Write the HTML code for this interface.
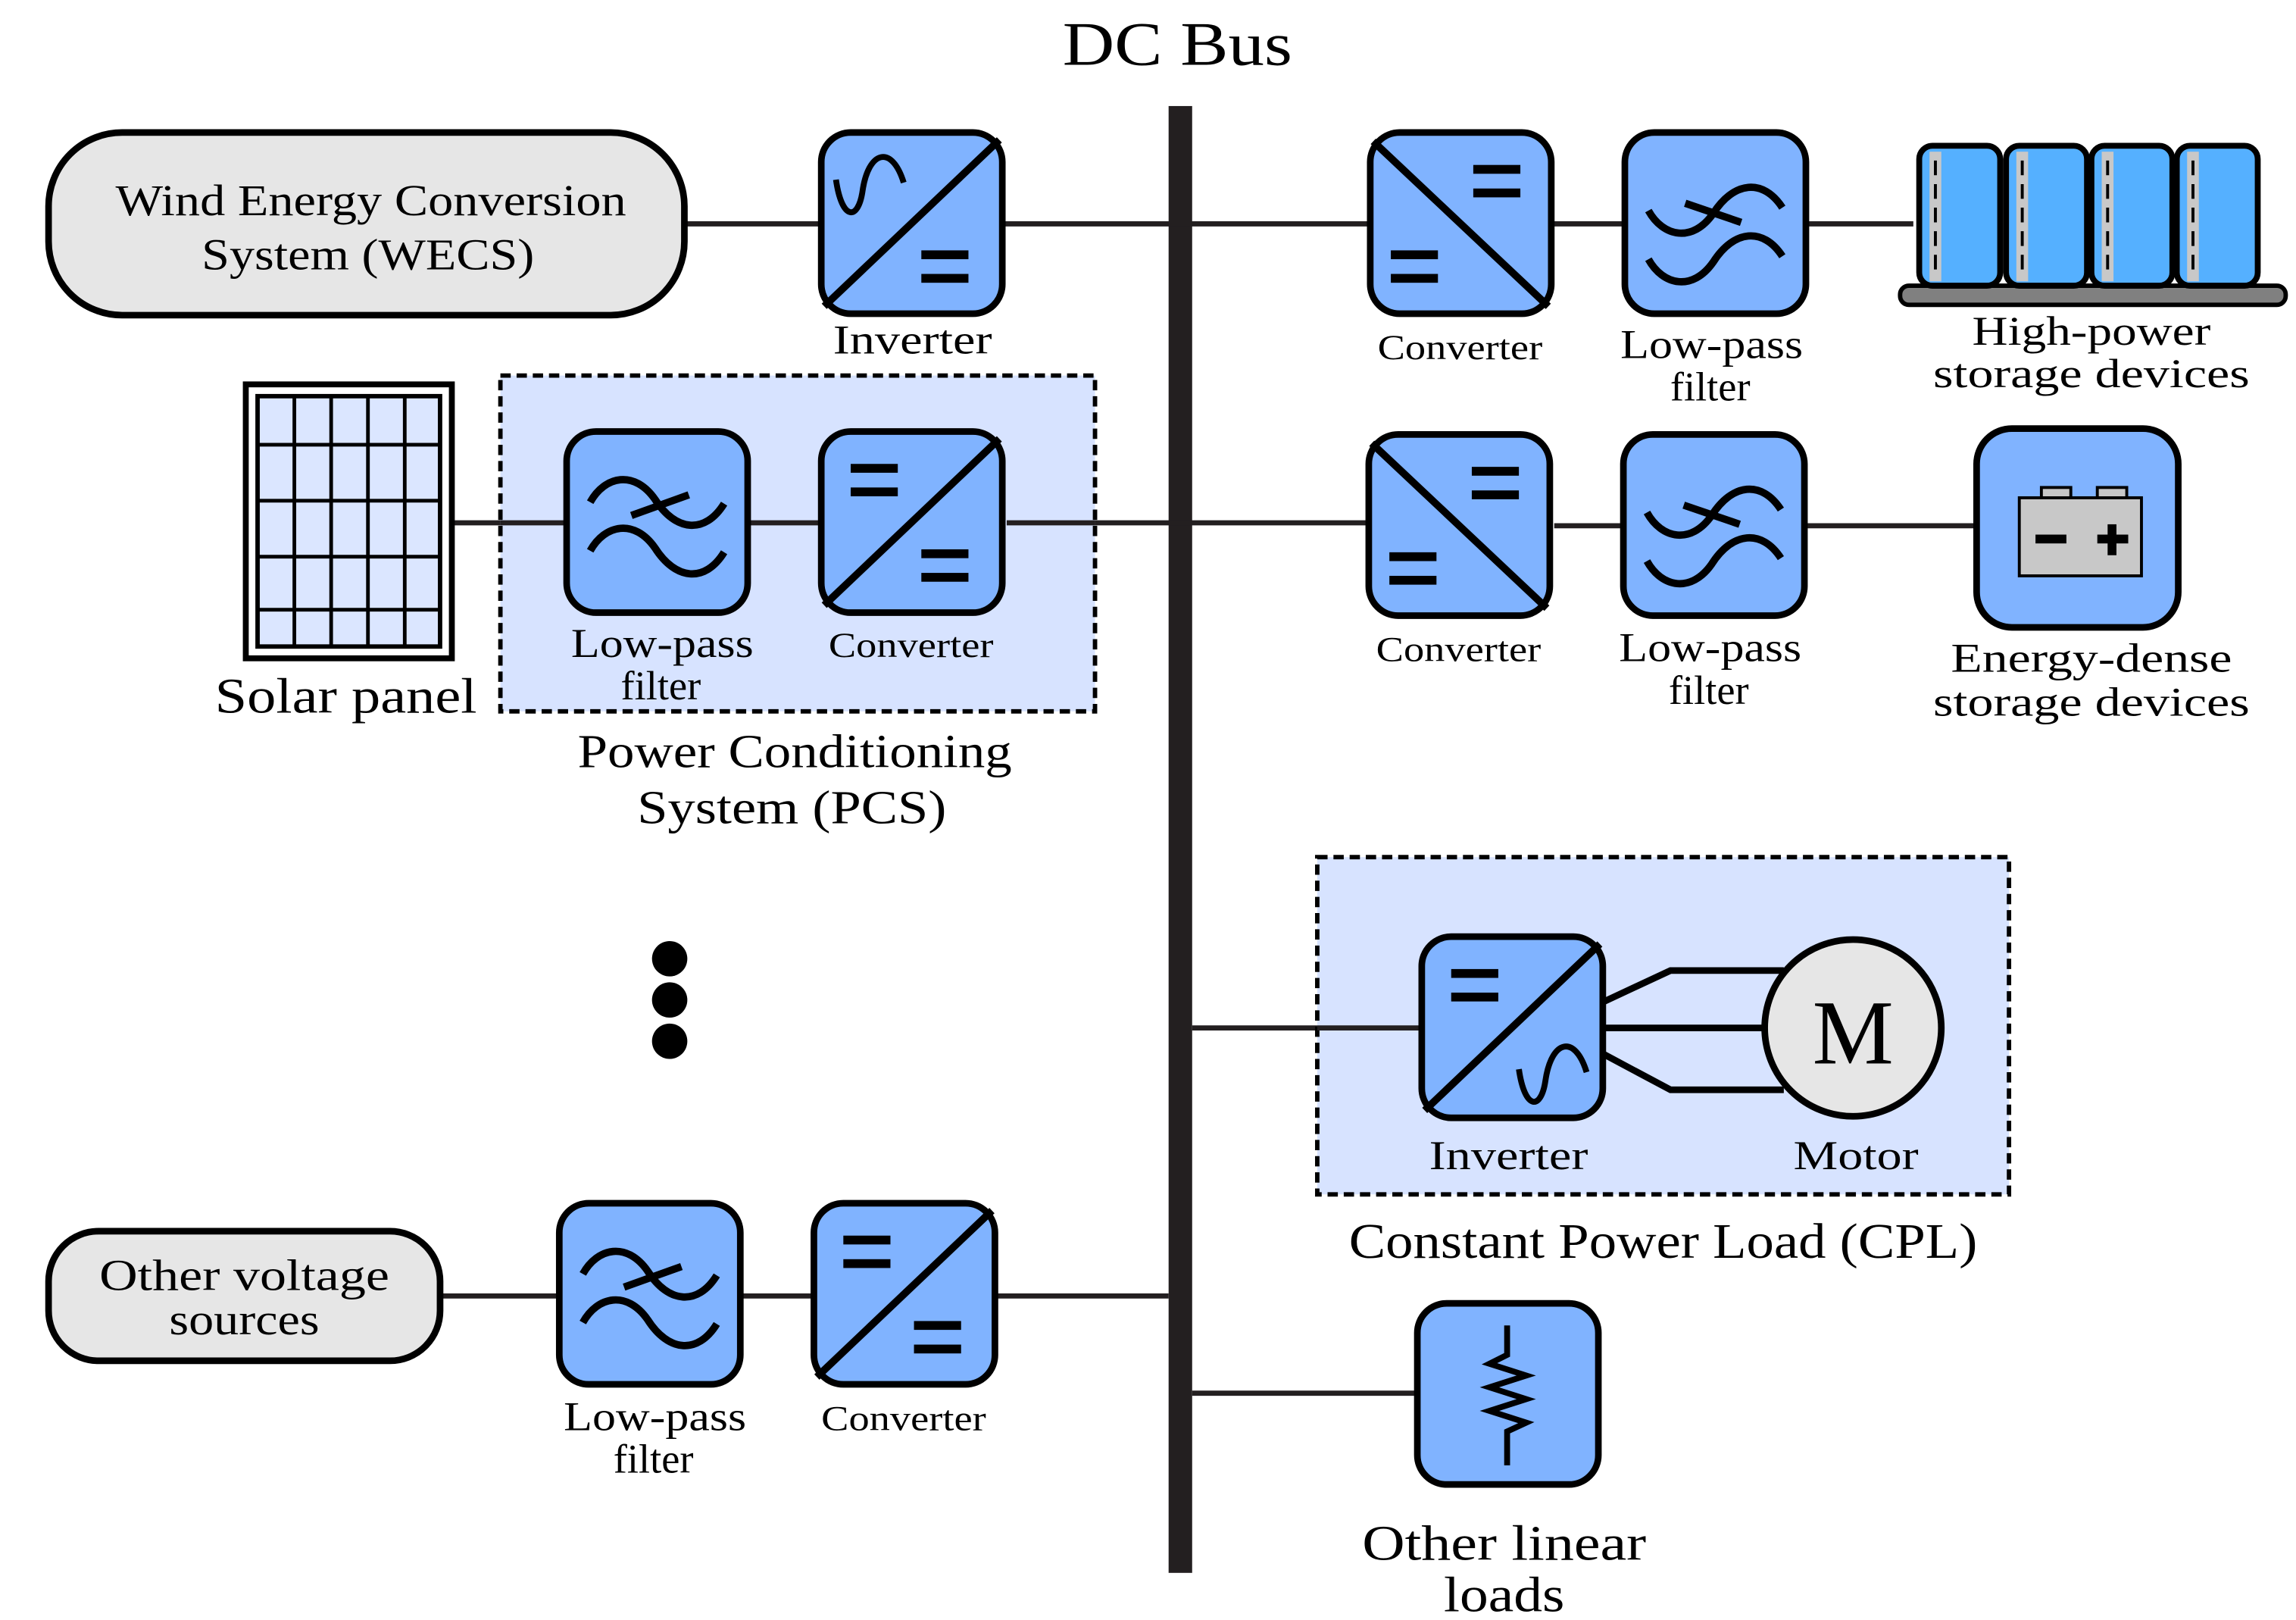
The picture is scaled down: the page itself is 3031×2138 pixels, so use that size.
<!DOCTYPE html>
<html><head><meta charset="utf-8"><style>
html,body{margin:0;padding:0;background:#fff;}
svg{display:block;}
text{font-family:"Liberation Serif",serif;fill:#000;}
</style></head><body>
<svg width="3031" height="2138" viewBox="0 0 1560 1100" preserveAspectRatio="none" xmlns="http://www.w3.org/2000/svg">
<defs>
<g id="box"><rect x="2" y="2" width="123" height="123" rx="20" fill="#80b3ff" stroke="#000" stroke-width="4.5"/></g>
<g id="convA"><use href="#box"/><line x1="4" y1="8" x2="123" y2="120" stroke="#000" stroke-width="5"/>
<rect x="72" y="24" width="32" height="6"/><rect x="72" y="40" width="32" height="6"/>
<rect x="16" y="82" width="32" height="6"/><rect x="16" y="98" width="32" height="6"/></g>
<g id="convB"><use href="#box"/><line x1="4" y1="120" x2="123" y2="7" stroke="#000" stroke-width="5"/>
<rect x="22" y="24" width="32" height="6"/><rect x="22" y="40" width="32" height="6"/>
<rect x="70" y="82" width="32" height="6"/><rect x="70" y="98" width="32" height="6"/></g>
<g id="inv"><use href="#box"/><line x1="4" y1="120" x2="123" y2="7" stroke="#000" stroke-width="5"/>
<path d="M12,34 C16,62 27,62 30,42 C34,14 50,10 58,36" fill="none" stroke="#000" stroke-width="4"/>
<rect x="70" y="82" width="32" height="6"/><rect x="70" y="98" width="32" height="6"/></g>
<g id="invB"><use href="#box"/><line x1="4" y1="120" x2="123" y2="7" stroke="#000" stroke-width="5"/>
<rect x="22" y="24" width="32" height="6"/><rect x="22" y="40" width="32" height="6"/>
<path d="M68,92 C72,120 83,120 86,100 C90,72 106,68 114,94" fill="none" stroke="#000" stroke-width="4"/></g>
<g id="lpfL"><use href="#box"/><g fill="none" stroke="#000" stroke-width="5">
<path d="M18,50 C28,32 48,28 62,48 C76,70 96,72 109,51"/><path d="M18,83 C28,65 48,61 62,81 C76,103 96,105 109,84"/>
<line x1="46" y1="59" x2="85" y2="45"/></g></g>
<g id="lpfR"><use href="#box"/><g fill="none" stroke="#000" stroke-width="5">
<path d="M18,55 C28,73 48,77 62,57 C76,35 96,33 109,53"/><path d="M18,88 C28,106 48,110 62,90 C76,68 96,66 109,86"/>
<line x1="43" y1="50" x2="81" y2="63"/></g></g>
<g id="cell"><rect x="2" y="2" width="55" height="95" rx="9" fill="#55b0ff" stroke="#000" stroke-width="4"/>
<rect x="9" y="6" width="8" height="88" fill="#c8c8c8"/><line x1="13" y1="12" x2="13" y2="88" stroke="#000" stroke-width="2" stroke-dasharray="10,6"/></g>
</defs>

<text x="800" y="44" font-size="42" text-anchor="middle" textLength="156" lengthAdjust="spacingAndGlyphs">DC Bus</text>
<rect x="794" y="72" width="16" height="996" fill="#231f20"/>

<g stroke="#231f20" stroke-width="3.5">
<line x1="466" y1="152" x2="930" y2="152"/>
<line x1="1056" y1="152" x2="1300" y2="152"/>
<line x1="308" y1="355" x2="930" y2="355"/>
<line x1="1056" y1="357" x2="1342" y2="357"/>
<line x1="810" y1="698" x2="964" y2="698"/>
<line x1="300" y1="880" x2="794" y2="880"/>
<line x1="810" y1="946" x2="962" y2="946"/>
</g>

<!-- WECS -->
<rect x="33" y="90" width="432" height="124" rx="50" fill="#e6e6e6" stroke="#000" stroke-width="4.5"/>
<text x="252" y="146" font-size="30" text-anchor="middle" textLength="347" lengthAdjust="spacingAndGlyphs">Wind Energy Conversion</text>
<text x="250" y="183" font-size="30" text-anchor="middle" textLength="226" lengthAdjust="spacingAndGlyphs">System (WECS)</text>
<use href="#inv" x="556" y="88"/>
<text x="620" y="240" font-size="28" text-anchor="middle" textLength="108" lengthAdjust="spacingAndGlyphs">Inverter</text>

<use href="#convA" x="929" y="88"/>
<text x="992" y="244" font-size="24" text-anchor="middle" textLength="112" lengthAdjust="spacingAndGlyphs">Converter</text>
<use href="#lpfR" x="1102" y="88"/>
<text x="1163" y="243" font-size="28" text-anchor="middle" textLength="124" lengthAdjust="spacingAndGlyphs">Low-pass</text>
<text x="1162" y="272" font-size="28" text-anchor="middle">filter</text>
<rect x="1291" y="194" width="262" height="13" rx="6" fill="#808080" stroke="#000" stroke-width="3"/>
<use href="#cell" x="1302" y="97"/><use href="#cell" x="1361" y="97"/><use href="#cell" x="1419" y="97"/><use href="#cell" x="1477" y="97"/>
<text x="1421" y="234" font-size="28" text-anchor="middle" textLength="162" lengthAdjust="spacingAndGlyphs">High-power</text>
<text x="1421" y="263" font-size="28" text-anchor="middle" textLength="215" lengthAdjust="spacingAndGlyphs">storage devices</text>

<!-- Solar -->
<rect x="167" y="261" width="140" height="186" fill="#fff" stroke="#000" stroke-width="4"/>
<rect x="175" y="269" width="124" height="170" fill="#dbe6ff" stroke="#000" stroke-width="3"/>
<g stroke="#000" stroke-width="2.5">
<line x1="200" y1="269" x2="200" y2="439"/><line x1="225" y1="269" x2="225" y2="439"/><line x1="250" y1="269" x2="250" y2="439"/><line x1="275" y1="269" x2="275" y2="439"/>
<line x1="175" y1="302" x2="299" y2="302"/><line x1="175" y1="340" x2="299" y2="340"/><line x1="175" y1="378" x2="299" y2="378"/><line x1="175" y1="414" x2="299" y2="414"/>
</g>
<text x="235" y="484" font-size="34" text-anchor="middle" textLength="178" lengthAdjust="spacingAndGlyphs">Solar panel</text>

<rect x="340" y="255" width="404" height="228" fill="#d7e3ff" stroke="#000" stroke-width="3" stroke-dasharray="7,4"/>
<line x1="340" y1="355" x2="384" y2="355" stroke="#231f20" stroke-width="3.5"/>
<line x1="510" y1="355" x2="556" y2="355" stroke="#231f20" stroke-width="3.5"/>
<line x1="684" y1="355" x2="744" y2="355" stroke="#231f20" stroke-width="3.5"/>
<use href="#lpfL" x="383" y="291"/>
<use href="#convB" x="556" y="291"/>
<text x="450" y="446" font-size="28" text-anchor="middle" textLength="124" lengthAdjust="spacingAndGlyphs">Low-pass</text>
<text x="449" y="475" font-size="28" text-anchor="middle">filter</text>
<text x="619" y="446" font-size="24" text-anchor="middle" textLength="112" lengthAdjust="spacingAndGlyphs">Converter</text>
<text x="540" y="521" font-size="32" text-anchor="middle" textLength="295" lengthAdjust="spacingAndGlyphs">Power Conditioning</text>
<text x="538" y="559" font-size="32" text-anchor="middle" textLength="210" lengthAdjust="spacingAndGlyphs">System (PCS)</text>

<use href="#convA" x="928" y="293"/>
<text x="991" y="449" font-size="24" text-anchor="middle" textLength="112" lengthAdjust="spacingAndGlyphs">Converter</text>
<use href="#lpfR" x="1101" y="293"/>
<text x="1162" y="449" font-size="28" text-anchor="middle" textLength="124" lengthAdjust="spacingAndGlyphs">Low-pass</text>
<text x="1161" y="478" font-size="28" text-anchor="middle">filter</text>
<rect x="1343" y="291" width="137" height="135" rx="24" fill="#80b3ff" stroke="#000" stroke-width="4.5"/>
<rect x="1387" y="331" width="20" height="8" fill="#c8c8c8" stroke="#000" stroke-width="2"/>
<rect x="1425" y="331" width="20" height="8" fill="#c8c8c8" stroke="#000" stroke-width="2"/>
<rect x="1372" y="338" width="83" height="53" fill="#c8c8c8" stroke="#000" stroke-width="2"/>
<rect x="1383" y="363" width="21" height="6"/>
<rect x="1425" y="363" width="21" height="6"/><rect x="1432" y="356" width="6" height="21"/>
<text x="1421" y="456" font-size="28" text-anchor="middle" textLength="191" lengthAdjust="spacingAndGlyphs">Energy-dense</text>
<text x="1421" y="486" font-size="28" text-anchor="middle" textLength="215" lengthAdjust="spacingAndGlyphs">storage devices</text>

<!-- dots -->
<circle cx="455" cy="651" r="12"/><circle cx="455" cy="679" r="12"/><circle cx="455" cy="707" r="12"/>

<!-- CPL -->
<rect x="895" y="582" width="470" height="229" fill="#d7e3ff" stroke="#000" stroke-width="3" stroke-dasharray="7,4"/>
<line x1="895" y1="698" x2="964" y2="698" stroke="#231f20" stroke-width="3.5"/>
<g fill="none" stroke="#000" stroke-width="4.5">
<polyline points="1090,680 1135,659 1212,659"/>
<line x1="1090" y1="698" x2="1200" y2="698"/>
<polyline points="1090,716 1135,740 1212,740"/>
</g>
<use href="#invB" x="964" y="634"/>
<circle cx="1259" cy="698" r="60" fill="#e6e6e6" stroke="#000" stroke-width="4.5"/>
<text x="1259" y="722" font-size="62" text-anchor="middle">M</text>
<text x="1025" y="794" font-size="28" text-anchor="middle" textLength="108" lengthAdjust="spacingAndGlyphs">Inverter</text>
<text x="1261" y="794" font-size="28" text-anchor="middle" textLength="85" lengthAdjust="spacingAndGlyphs">Motor</text>
<text x="1130" y="854" font-size="34" text-anchor="middle" textLength="427" lengthAdjust="spacingAndGlyphs">Constant Power Load (CPL)</text>

<!-- Other voltage sources -->
<rect x="33" y="836" width="266" height="88" rx="34" fill="#e6e6e6" stroke="#000" stroke-width="4.5"/>
<text x="166" y="876" font-size="30" text-anchor="middle" textLength="197" lengthAdjust="spacingAndGlyphs">Other voltage</text>
<text x="166" y="906" font-size="30" text-anchor="middle" textLength="102" lengthAdjust="spacingAndGlyphs">sources</text>
<use href="#lpfL" x="378" y="815"/>
<use href="#convB" x="551" y="815"/>
<text x="445" y="971" font-size="28" text-anchor="middle" textLength="124" lengthAdjust="spacingAndGlyphs">Low-pass</text>
<text x="444" y="1000" font-size="28" text-anchor="middle">filter</text>
<text x="614" y="971" font-size="24" text-anchor="middle" textLength="112" lengthAdjust="spacingAndGlyphs">Converter</text>

<!-- Resistor -->
<use href="#box" x="961" y="883"/>
<polyline points="1024,900 1024,920 1012,926 1037,934 1012,942 1037,950 1012,958 1037,966 1024,972 1024,995" fill="none" stroke="#000" stroke-width="4"/>
<text x="1022" y="1059" font-size="34" text-anchor="middle" textLength="193" lengthAdjust="spacingAndGlyphs">Other linear</text>
<text x="1022" y="1094" font-size="34" text-anchor="middle" textLength="82" lengthAdjust="spacingAndGlyphs">loads</text>
</svg>
</body></html>
